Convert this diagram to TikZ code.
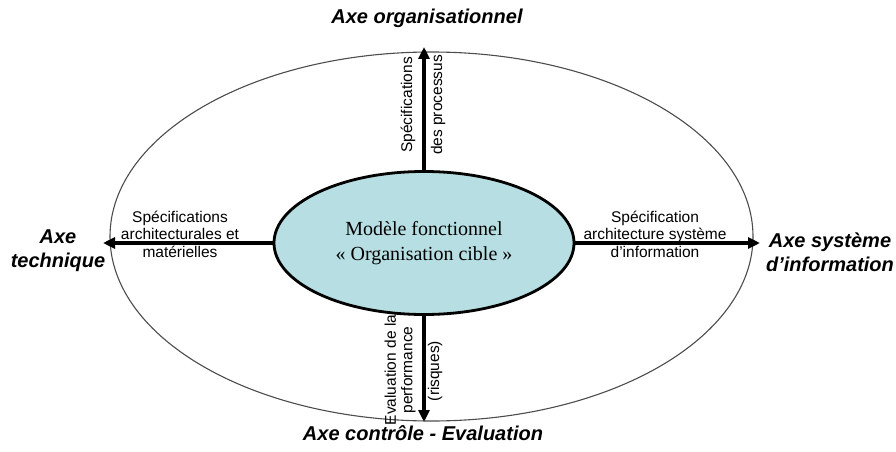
\documentclass[tikz,border=0pt]{standalone}
\usepackage{fontspec}
\setmainfont{Liberation Serif}
\setsansfont{Liberation Sans}
\usetikzlibrary{shapes.geometric,arrows.meta}
\definecolor{cible}{RGB}{183,223,227}
\tikzset{
  axe/.style={font=\sffamily\bfseries\itshape\fontsize{20}{24}\selectfont, align=center},
  flux/.style={line width=3.2pt, -{Triangle[length=12pt,width=11pt]}},
  lbl/.style={font=\sffamily\fontsize{15.5}{17.5}\selectfont, align=center, inner sep=0pt},
}
\begin{document}
\begin{tikzpicture}[x=1pt,y=-1pt]
			\useasboundingbox (0,0) rectangle (896,452);
			\draw[gray!60!black, line width=1.1pt] (431.5,236.5) ellipse (321.5 and 184.5);

			\node[draw, ellipse, fill=cible, line width=2.8pt, minimum width=300pt, minimum height=143pt, inner sep=0pt, font=\fontsize{20}{25}\selectfont, align=center] (modele) at (424,243) {Modèle fonctionnel\\« Organisation cible »};

			\node[lbl, rotate=90] (specproc) at (408,105) {Spécifications};
			\node[lbl, rotate=90] (desproc) at (438,105) {des processus};
			\node[lbl, rotate=90, font=\sffamily\fontsize{15.5}{16.5}\selectfont] (evalperf) at (400,370) {Evaluation de la\\performance};
			\node[lbl, rotate=90] (risques) at (435,371) {(risques)};
			\node[lbl] (specarch) at (180,234) {Spécifications\\architecturales et\\matérielles};
			\node[lbl] (specsi) at (655,234) {Spécification\\architecture système\\d'information};

			\coordinate (haut) at (424,47);
			\coordinate (bas) at (424,422);
			\coordinate (gauche) at (103,243);
			\coordinate (droite) at (760,243);
			\draw[flux] (modele.north) -- (haut);
			\draw[flux] (modele.south) -- (bas);
			\draw[flux] (modele.west) -- (gauche);
			\draw[flux] (modele.east) -- (droite);

			\node[axe] (axeorg) at (427,18) {Axe organisationnel};
			\node[axe] (axetech) at (58,251) {Axe\\technique};
			\node[axe] (axesi) at (830,252) {Axe système\\d’information};
			\node[axe] (axectrl) at (423,433) {Axe contrôle - Evaluation};
		\end{tikzpicture}
\end{document}
